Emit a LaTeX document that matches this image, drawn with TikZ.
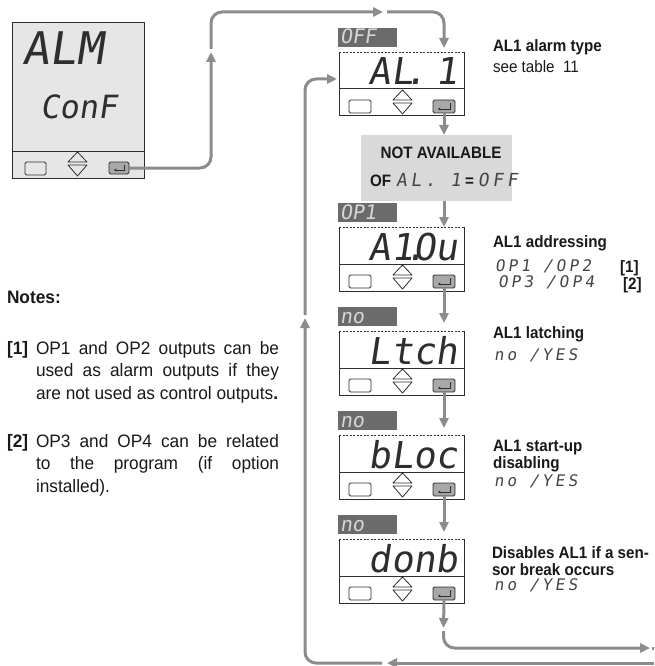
\documentclass[tikz,border=0pt]{standalone}
\usepackage{fontspec}
\setmainfont{Liberation Sans}
\newfontfamily\cond[FakeStretch=0.92]{Liberation Sans}
\newfontfamily\notef[FakeStretch=0.96]{Liberation Sans}
\newfontfamily\segf[FakeSlant=0.15]{DejaVu Sans Mono}
\newfontfamily\segsp[FakeSlant=0.15,LetterSpace=20]{DejaVu Sans Mono}
\usetikzlibrary{arrows.meta}
\definecolor{lgray}{HTML}{8C8C8C}
\definecolor{dgray}{HTML}{6B6B6B}
\definecolor{panel}{HTML}{E6E6E6}
\definecolor{nabg}{HTML}{D9D9D9}
\definecolor{ink}{HTML}{2E2E2E}
\definecolor{btn}{HTML}{A8A8A8}
\definecolor{labtext}{HTML}{D6D6D6}
\definecolor{segink}{HTML}{454545}
\tikzset{
  conn/.style={draw=lgray, line width=3pt, rounded corners=11pt, -{Triangle[length=10pt,width=9pt]}},
  plain/.style={draw=lgray, line width=3pt},
  frame/.style={draw=ink, line width=1pt},
  dashtop/.style={draw=ink, line width=0.8pt, dash pattern=on 2pt off 1.5pt},
  keybox/.style={draw=ink, line width=0.8pt, fill=white, rounded corners=1.5pt, minimum width=22pt, minimum height=13pt, anchor=north west},
  enterkey/.style={keybox, fill=btn},
  labelbox/.style={fill=dgray, minimum width=59pt, minimum height=19pt, anchor=north west},
  segbig/.style={font=\segf\fontsize{37}{40}\selectfont, text=ink, anchor=base east},
  seglab/.style={font=\segf\fontsize{20}{22}\selectfont, text=labtext, anchor=base west},
  segsmall/.style={font=\segsp\fontsize{16}{17}\selectfont, text=segink, anchor=base west},
  desc/.style={font=\cond\bfseries\fontsize{16.5}{17}\selectfont, text=black!90, anchor=base west},
  descr/.style={font=\cond\fontsize{16.5}{17}\selectfont, text=black!90, anchor=base west},
  note/.style={font=\notef\fontsize{18}{22.5}\selectfont, text=black!90, anchor=base west},
  notelab/.style={font=\notef\bfseries\fontsize{18}{22.5}\selectfont, text=black!90, anchor=base west},
}
\newcommand\updown[2]{%
  \draw[ink, line width=0.8pt, line join=round] (#1-9.5,#2+10) -- (#1,#2) -- (#1+9.5,#2+10) -- cycle
    (#1-9.5,#2+13) -- (#1+9.5,#2+13) -- (#1,#2+24) -- cycle;}
\newcommand\enterglyph[1]{%
  \draw[ink, line width=0.8pt, -{Stealth[length=2.5pt,width=3.2pt]}]
    ([xshift=-5pt,yshift=-3pt]#1.north east) -- ([xshift=-5pt,yshift=4pt]#1.south east)
    -- ([xshift=5pt,yshift=4pt]#1.south west);}
\newcommand\segdot{\kern-.25em.\kern-.35em}
% #1 name, #2 left x, #3 top y, #4 display text, #5 label text
\newcommand\Disp[5]{%
  \begin{scope}[shift={(#2,#3)}]
    \node[fill=white, minimum width=125pt, minimum height=64pt, anchor=north west] (#1) at (0,0) {};
    \draw[frame] (#1.north west) -- (#1.south west) -- (#1.south east) -- (#1.north east);
    \draw[dashtop] (#1.north west) -- (#1.north east);
    \draw[frame] (0,37) -- (125,37);
    \node[segbig] (#1t) at (119,33) {#4};
    \node[keybox] (#1k) at (10,48) {};
    \updown{63.5}{38}
    \node[enterkey] (#1e) at (94,48) {};
    \enterglyph{#1e}
    \node[labelbox] (#1l) at (-1,-24) {};
    \node[seglab] (#1lt) at (1,-8) {#5};
  \end{scope}}
\begin{document}
\begin{tikzpicture}[x=1pt,y=-1pt, every node/.style={inner sep=0pt,outer sep=0pt}]
\fill[white] (0,0) rectangle (654,666);
\useasboundingbox (0,0) rectangle (654,666);

% left configuration display
\begin{scope}[shift={(12,23)}]
  \node[fill=panel, draw=ink, line width=1pt, minimum width=132pt, minimum height=155pt, anchor=north west] (alm) at (0,0) {};
  \draw[frame] (0,128) -- (132,128);
  \node[font=\segf\fontsize{45}{48}\selectfont, text=ink, anchor=base west] (almt) at (10,42) {ALM};
  \node[font=\segf\fontsize{32}{34}\selectfont, text=ink, anchor=base west] (almc) at (28,95) {ConF};
  \node[keybox, fill=panel, minimum width=21pt] (almk) at (13,139) {};
  \updown{65.5}{129}
  \node[enterkey, minimum width=20pt, minimum height=12pt] (alme) at (97,139) {};
  \enterglyph{alme}
\end{scope}

% right column displays
\Disp{d1}{339}{52}{AL\segdot\ 1}{OFF}
\Disp{d2}{339}{227}{A1\segdot Ou}{OP1}
\Disp{d3}{339}{331}{Ltch}{no}
\Disp{d4}{339}{435}{bLoc}{no}
\Disp{d5}{339}{539}{donb}{no}

% not available box
\node[fill=nabg, minimum width=151pt, minimum height=66pt, anchor=north west] (na) at (361,135) {};
\node[desc, anchor=base] (nat) at (441,158) {NOT AVAILABLE};
\node[desc] (nab) at (370,186) {OF\hspace{5pt}{\segsp\mdseries\fontsize{18}{18}\selectfont\color{segink}AL.\ 1}\hspace{4pt}=\hspace{4pt}{\segsp\mdseries\fontsize{18}{18}\selectfont\color{segink}OFF}};

% connectors
\coordinate (k1) at (211,52);
\coordinate (k1b) at (211,49);
\coordinate (k2) at (383,12);
\coordinate (k3) at (387,12);
\draw[conn] (alme.east) -| (k1);
\draw[conn] (k1b) |- (k2);
\draw[conn, shorten >=4pt] (k3) -| (d1e.south |- d1.north);
\draw[conn] (d1e.south) -- (d1e.south |- na.north);
\draw[conn] (d1e.south |- na.south) -- (d2e.south |- d2.north);
\draw[conn, shorten >=8pt] (d2e.south) -- (d2e.south |- d3.north);
\draw[conn, shorten >=7pt] (d3e.south) -- (d3e.south |- d4.north);
\draw[conn, shorten >=7pt] (d4e.south) -- (d4e.south |- d5.north);
\coordinate (k4) at (443.5,628);
\coordinate (k4b) at (443.5,631);
\coordinate (k5) at (650,648);
\coordinate (k5b) at (652,648);
\coordinate (k5c) at (654,648);
\draw[conn] (d5e.south) -- (k4);
\draw[conn] (k4b) |- (k5);
\draw[plain] (k5b) -- (k5c);
\coordinate (k7) at (654,663);
\coordinate (k8) at (387,663);
\coordinate (k9) at (382,663);
\coordinate (k10) at (305,318);
\coordinate (k10b) at (305,315);
\draw[conn] (k7) -- (k8);
\draw[conn] (k9) -| (k10);
\draw[conn, shorten >=2pt] (k10b) |- ([yshift=5pt]d1.west);

% descriptions
\node[desc] (t1) at (493,52) {AL1 alarm type};
\node[descr] (t1b) at (493,73) {see table\ \ 11};
\node[desc] (t2) at (493,247) {AL1 addressing};
\node[segsmall] (t2a) at (495,271) {OP1 /OP2};
\node[desc] (t2an) at (620,272) {[1]};
\node[segsmall] (t2b) at (498,287) {OP3 /OP4};
\node[desc] (t2bn) at (623,289) {[2]};
\node[desc] (t3) at (493,338) {AL1 latching};
\node[segsmall] (t3a) at (494,360) {no /YES};
\node[desc] (t4) at (493,451) {AL1 start-up};
\node[desc] (t4b) at (493,468) {disabling};
\node[segsmall] (t4a) at (494,486) {no /YES};
\node[desc] (t5) at (492,558) {Disables AL1 if a sen-};
\node[desc] (t5b) at (492,575) {sor break occurs};
\node[segsmall] (t5a) at (494,590) {no /YES};

% notes
\node[notelab] (notes) at (7,303) {Notes:};
\node[notelab] (n1) at (7,354) {[1]};
\node[note, text width=243pt, align=justify] (p1) at (36,354) {OP1 and OP2 outputs can be\linebreak used as alarm outputs if they\linebreak are not used as control outputs\textbf{.}};
\node[notelab] (n2) at (7,447) {[2]};
\node[note, text width=243pt, align=justify] (p2) at (36,447) {OP3 and OP4 can be related\linebreak to the program (if option\linebreak installed).};
\end{tikzpicture}
\end{document}
